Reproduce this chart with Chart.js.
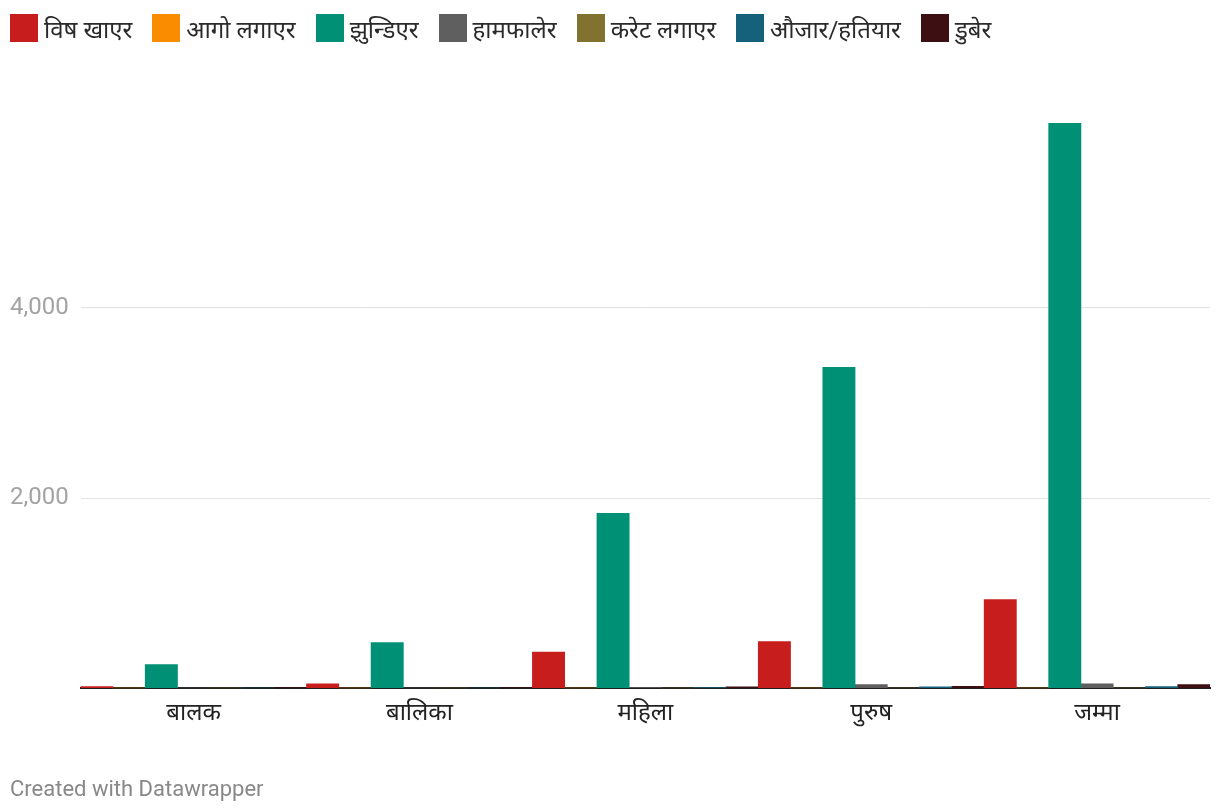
<!DOCTYPE html>
<html>
<head>
<meta charset="utf-8">
<script src="https://cdn.jsdelivr.net/npm/chart.js@4"></script>
<style>
  html, body { margin: 0; padding: 0; background: #fff; }
  #wrap { position: relative; width: 1220px; height: 812px; overflow: hidden; }
  #chart-box { position: absolute; left: 0; top: 0; width: 1220px; height: 812px; }
  #legend { position: absolute; left: 10px; top: 14px; display: flex; align-items: center;
            font-family: Roboto, "Noto Sans", sans-serif; font-size: 24px; color: #2a2a2a; }
  .leg-item { display: flex; align-items: center; margin-right: 20px; height: 28px; }
  .leg-box { width: 28px; height: 28px; margin-right: 6px; }
  #footer { position: absolute; left: 10px; top: 777px; line-height: 24px;
            font-family: Roboto, sans-serif; font-size: 22px; color: #888; }
</style>
</head>
<body>
<div id="wrap">
  <div id="chart-box"><canvas id="chart"></canvas></div>
  <div id="legend"></div>
  <div id="footer">Created with Datawrapper</div>
</div>
<script>
// categories (x axis)
const categories = ['बालक', 'बालिका', 'महिला', 'पुरुष', 'जम्मा'];

// series values
const poison   = [18, 45, 380, 490, 933];      // विष खाएर
const fire     = [0, 0, 0, 0, 0];              // आगो लगाएर
const hanging  = [249, 481, 1839, 3376, 5945]; // झुन्डिएर
const jumping  = [0, 0, 6, 39, 47];            // हामफालेर
const electric = [0, 0, 0, 0, 0];              // करेट लगाएर
const weapon   = [0, 0, 3, 15, 18];            // औजार/हतियार
const drowning = [1, 2, 15, 20, 38];           // डुबेर

const yTickValues = [0, 2000, 4000];

const seriesNames = ['विष खाएर', 'आगो लगाएर', 'झुन्डिएर', 'हामफालेर', 'करेट लगाएर', 'औजार/हतियार', 'डुबेर'];
const seriesData = [poison, fire, hanging, jumping, electric, weapon, drowning];
const colors = ['#c71e1d', '#fa8c00', '#009076', '#5f5f5f', '#827230', '#15607a', '#3d0e12'];

// HTML legend
const legendEl = document.getElementById('legend');
seriesNames.forEach((name, i) => {
    legendEl.innerHTML += `<div class="leg-item"><div class="leg-box" style="background:${colors[i]}"></div><span>${name}</span></div>`;
});

const allValues = seriesData.flat();

Chart.defaults.font.family = 'Roboto, "Noto Sans", sans-serif';

new Chart(document.getElementById('chart').getContext('2d'), {
    type: 'bar',
    data: {
        labels: categories,
        datasets: seriesData.map((d, i) => ({
            label: seriesNames[i],
            data: d,
            backgroundColor: colors[i],
            borderWidth: 0,
            barPercentage: 1,
            categoryPercentage: 1
        }))
    },
    options: {
        responsive: true,
        maintainAspectRatio: false,
        animation: false,
        layout: { padding: { top: 123, left: -2, right: 10, bottom: 73 } },
        plugins: {
            legend: { display: false },
            tooltip: { enabled: false }
        },
        scales: {
            x: {
                grid: { display: false, drawTicks: false },
                border: { display: true, color: '#1d1d1d', width: 2 },
                ticks: { color: '#222', font: { size: 24 }, padding: 11, maxRotation: 0 }
            },
            y: {
                min: 0,
                max: Math.max(...allValues),
                afterBuildTicks: scale => {
                    scale.ticks = yTickValues.map(v => ({ value: v }));
                },
                grid: {
                    drawTicks: false,
                    color: c => (c.tick && c.tick.value === 0) ? 'rgba(0,0,0,0)' : '#e2e2e2',
                    lineWidth: 1
                },
                border: { display: false },
                ticks: {
                    color: '#a3a3a3',
                    font: { size: 24 },
                    padding: 12,
                    callback: v => v === 0 ? '' : v.toLocaleString('en-US')
                }
            }
        }
    }
});
</script>
</body>
</html>
